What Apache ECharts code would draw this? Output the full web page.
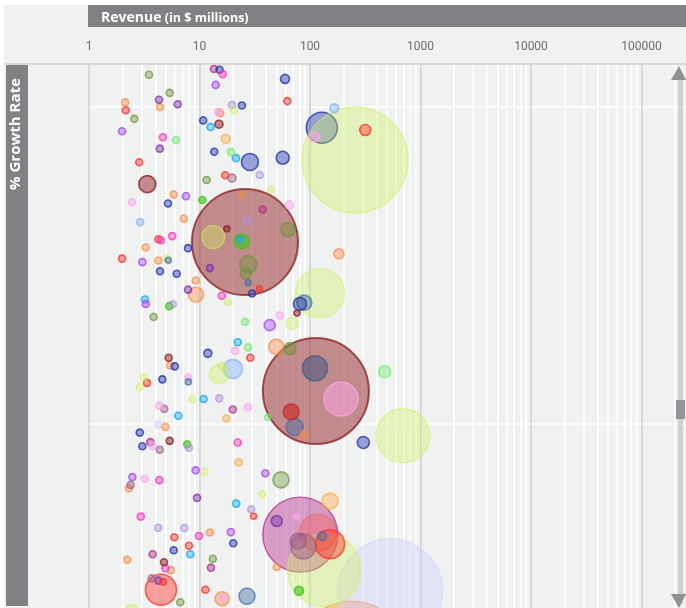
<!DOCTYPE html>
<html><head><meta charset="utf-8">
<style>html,body{margin:0;padding:0;background:#fff;overflow:hidden}#c{width:686px;height:608px;filter:blur(.45px)}</style>
<script src="https://cdn.jsdelivr.net/npm/echarts@6/dist/echarts.min.js"></script>
</head><body><div id="c"></div>
<script>
// [revenue in $ millions, growth rate, bubble weight]
const redCos=[[2.15,99,64],[62.3,101.9,64],[2.85,82.6,64],[17.1,78.5,64],[4.24,58.3,64],[1.99,52.2,64],[28.8,20.9,64],[3.35,13,64],[316,92.8,144],[5.92,-35.7,64],[8.03,-38.4,64],[4.48,-52.3,1024],[11.3,-52.3,64],[4.7,-49.8,49],[152,-37.9,900],[34.7,42.7,49],[30.9,-29.1,49]];
const brickCos=[[67.7,3.9,289]];
const coralCos=[[118,-34.3,1444]];
const orangeCos=[[2.12,101.5,64],[4.39,100,64],[15.4,98.1,64],[5.84,72.4,64],[24.1,72.2,49],[7.19,64.8,64],[3.26,55.7,64],[4.24,51.6,64],[9.24,45.3,64],[9.3,40.8,256],[183,53.7,121],[49.5,24.4,256],[5.41,18.5,64],[4.9,-0.9,64],[88.3,-3.4,81],[2.3,-20.3,64],[12.4,-34.2,64],[2.22,-42.8,64],[5.52,-46.1,64],[50,-45.1,64],[16,-55.1,225],[238,-72.6,11449]];
const goldCos=[[17.3,90,100],[17.5,1.8,64],[22.6,-12.1,64],[152,-24.3,289]];
const oliveCos=[[3.49,110.2,64],[5.37,104.5,64],[2.57,96.3,64],[11.6,77,64],[63.2,61.4,225],[27.6,50.4,324],[26.2,47.4,144],[3.85,33.8,64],[65.9,23.8,169],[54.6,-17.6,289],[13.2,-42.5,64],[6.7,-56.2,64]];
const purpleCos=[[4.3,102.3,64],[6.35,100.9,64],[4.37,86.9,64],[7.87,42.4,64],[9.5,-23.3,64],[4.24,-49.4,64],[50,-30.6,144],[12.4,49.2,64]];
const plumCos=[[13.5,112,64],[37.3,67.7,64],[20,4.6,64],[3.59,-5.7,64],[3.77,-41.1,64],[12.7,-45.3,64],[81.7,-34.9,5776]];
const navyCos=[[15.2,111.8,64],[24.2,100.5,64],[10.8,95.8,64],[13.6,85.9,64],[5.19,69.6,64],[7.87,55.5,64],[4.39,48.2,64],[6.22,47.4,64],[29.9,41.2,64],[81.2,37.9,196],[11.9,22.3,81],[5.97,18.2,64],[4.61,14.1,64],[2.88,-2.7,64],[3.04,-7,64],[20.2,-37.6,64],[5.84,-39.8,64],[59.4,108.9,100],[28.6,82.7,324],[56.6,84,196],[304,-5.8,169]];
const blueUnderLime=[[128,93.5,1024]];
const steelCos=[[5.22,51.7,49],[27.5,44.6,49],[88.8,38.3,256],[7.92,13.3,49],[72.7,-0.9,324],[129,-35.3,100],[26.9,-54.3,289]];
const slateCos=[[111,17.6,676]];
const cyanCos=[[12.6,93.7,64],[21.4,83.9,64],[23.4,58.3,49],[3.21,39.3,64],[22.2,25.8,64],[10.9,7.9,64],[6.43,2.6,64],[21.5,-25.1,64],[8.25,-41.1,64]];
const violetCos=[[14,107,64],[1.99,92.4,64],[7.55,71.9,64],[3.04,51.1,64],[3.26,37.9,64],[43.2,31.2,144],[9.24,-14.6,64],[2.47,-16.7,64],[39.4,-15.5,64],[19.2,-34.1,64]];
const magentaCos=[[16.2,110.4,64],[4.67,90.5,64],[5.67,59.3,64],[4.48,58,64],[15.9,40.5,64],[22.2,-5.8,64],[4.33,-17.7,64],[2.94,-29.2,64],[9.89,-35.3,64],[4.9,-45.5,64]];
const mintCos=[[6.13,89.6,64],[19.3,85.8,64],[25.8,32.3,64],[27.5,24.2,64],[41.4,2.1,49],[474,16.5,169]];
const greenCos=[[10.6,70.7,64],[24.1,57.6,256],[5.33,37.2,64],[7.75,-6.4,64],[79.5,-52.6,100]];
const maroonCos=[[15,94.6,81],[3.37,75.7,324],[25.8,57.4,11449],[76.3,35,49],[5.26,20.9,64],[5.37,-5.3,64],[4.77,-43.6,64],[113,10.4,11449],[17.7,61.6,49]];
const lavenderCos=[[19.7,100.7,64],[35,78.6,64],[26.9,64,64],[5.72,37.8,64],[15.1,8.1,64],[8,-7.5,64],[29.4,-26.9,64],[4.24,-32.7,64],[7.29,-32.8,64]];
const mauveCos=[[19.7,77.6,81],[4.8,4.8,64],[4.37,-8.1,64],[2.38,-19.2,64],[3.69,-48.7,64],[78.4,-36.9,289],[87,-38.6,676]];
const pinkCos=[[14.8,98.5,64],[110,90.6,121],[2.44,70,64],[65,69.1,81],[53.2,34.3,64],[21,23.1,64],[7.92,14.7,64],[27.5,5.3,64],[4.33,5.8,64],[3.77,-6.9,64],[3.19,-17.3,64],[16.2,-54.9,49],[191,7.9,1225],[75.9,-29.3,36]];
const skyCos=[[166,99.6,100],[2.91,63.7,64],[20.1,17.4,400]];
const paleCos=[[4.21,-0.1,64],[533,-52.7,11236]];
const limeCos=[[255,83.3,11449],[20.6,99,64],[44.4,74,64],[13.3,59,576],[5.05,52.3,64],[18,38.5,64],[123,41.3,2500],[68.7,31.8,169],[15,15.7,400],[15.9,18.4,64],[3.13,14.7,64],[2.89,11.6,64],[8.6,7.8,64],[694,-3.7,3025],[11.1,-15,64],[37,-22.1,64],[134,-46.1,5476],[2.45,-59.3,256]];
const minorSteps=[2,3,4,5,6,7,8,9];
const decades=[1,10,100,1000,10000,100000];

const groups=[
 [redCos,'255,50,40',.55,.95],[brickCos,'200,35,35',.75,.85],[coralCos,'250,90,85',.45,.6],[orangeCos,'255,135,65',.5,.85],[goldCos,'255,170,60',.5,.85],[oliveCos,'105,150,55',.5,.9],
 [purpleCos,'120,50,170',.55,.95],[plumCos,'181,44,140',.55,.95],[navyCos,'35,55,175',.55,1],[blueUnderLime,'35,55,175',.55,1],[steelCos,'65,110,165',.55,.85],[slateCos,'60,85,130',.65,.8],
 [cyanCos,'15,170,255',.5,1],[violetCos,'165,65,255',.5,.95],[magentaCos,'255,50,190',.5,.95],[mintCos,'105,235,105',.5,.85],
 [greenCos,'60,200,20',.75,1],[maroonCos,'145,35,35',.62,1],[lavenderCos,'175,150,230',.55,.9],[mauveCos,'155,95,135',.55,.85],
 [pinkCos,'255,165,240',.6,.9],[skyCos,'130,175,255',.55,.85],[paleCos,'205,205,250',.5,.5],[limeCos,'205,240,90',.45,.65]
];
const points=[];
groups.forEach(([arr,rgb,fa,ba])=>arr.forEach(p=>points.push({value:p,group:arr,itemStyle:{color:`rgba(${rgb},${fa})`,borderColor:`rgba(${rgb},${ba})`,borderWidth:p[2]>2000?(arr===maroonCos?2:1.4):1.6}})));
points.sort((a,b)=>b.value[2]-a.value[2]);
// this one bubble sits beneath the big lime bubble that overlaps it
const under=points.findIndex(p=>p.group===blueUnderLime);
points.unshift(points.splice(under,1)[0]);
points.forEach(p=>delete p.group);
const minorLines=[];
decades.forEach(d=>minorSteps.forEach(s=>minorLines.push({xAxis:d*s})));

const chart=echarts.init(document.getElementById('c'),null,{renderer:'canvas'});
chart.setOption({
 animation:false,backgroundColor:'#fff',
 grid:{left:89,top:64,width:663,height:677,containLabel:false,outerBoundsMode:'none'},
 xAxis:{type:'log',position:'top',min:1,max:1000000,logBase:10,
  axisLine:{show:false},axisTick:{show:false},
  axisLabel:{margin:11,color:'#6b6c6e',fontFamily:'Roboto',fontSize:12,formatter:v=>String(v)},
  splitLine:{show:true,lineStyle:{color:'#d8d9d9',width:2}}},
 yAxis:{type:'value',min:-100,max:113.6,interval:100,
  axisLine:{show:false},axisTick:{show:false},axisLabel:{show:false},
  splitLine:{show:true,lineStyle:{color:'#ffffff',width:1.5}}},
 series:[{type:'scatter',z:2,data:points,symbolSize:v=>Math.sqrt(v[2])-1,
   encode:{x:0,y:1},
   markLine:{silent:true,z:1,symbol:'none',label:{show:false},lineStyle:{color:'#fff',width:1.5,type:'solid',opacity:1},animation:false,data:minorLines}}],
 graphic:[
  {type:'rect',z:-10,shape:{x:4,y:5,width:682,height:603},style:{fill:'#f0f2f1'}},
  {type:'rect',z:20,shape:{x:88,y:5,width:598,height:22},style:{fill:'#808184'}},
  {type:'rect',z:20,shape:{x:6,y:64,width:22,height:542},style:{fill:'#808184'}},
  {type:'rect',z:20,shape:{x:4,y:63,width:682,height:2},style:{fill:'#d9dad9'}},
  {type:'text',z:21,x:101,y:11,style:{text:'{a|Revenue} {b|(in $ millions)}',rich:{a:{fontWeight:'bold',fontSize:14,fontFamily:'Open Sans',fill:'#fff'},b:{fontWeight:'bold',fontSize:12.5,fontFamily:'Open Sans',fill:'#fff'}}}},
  {type:'text',z:21,x:16,y:134,rotation:Math.PI/2,style:{text:'% Growth Rate',font:'bold 15px "Open Sans"',fill:'#fff',align:'center',verticalAlign:'middle'}},
  {type:'rect',z:20,shape:{x:678,y:74,width:5,height:530},style:{fill:'#cfd0d2'}},
  {type:'polygon',z:21,shape:{points:[[671,80],[686,80],[679,66]]},style:{fill:'#8f9094'}},
  {type:'polygon',z:21,shape:{points:[[671,594],[686,594],[679,608]]},style:{fill:'#8f9094'}},
  {type:'rect',z:21,shape:{x:676,y:400,width:9,height:19},style:{fill:'#939497'}}
 ]
});
</script></body></html>
